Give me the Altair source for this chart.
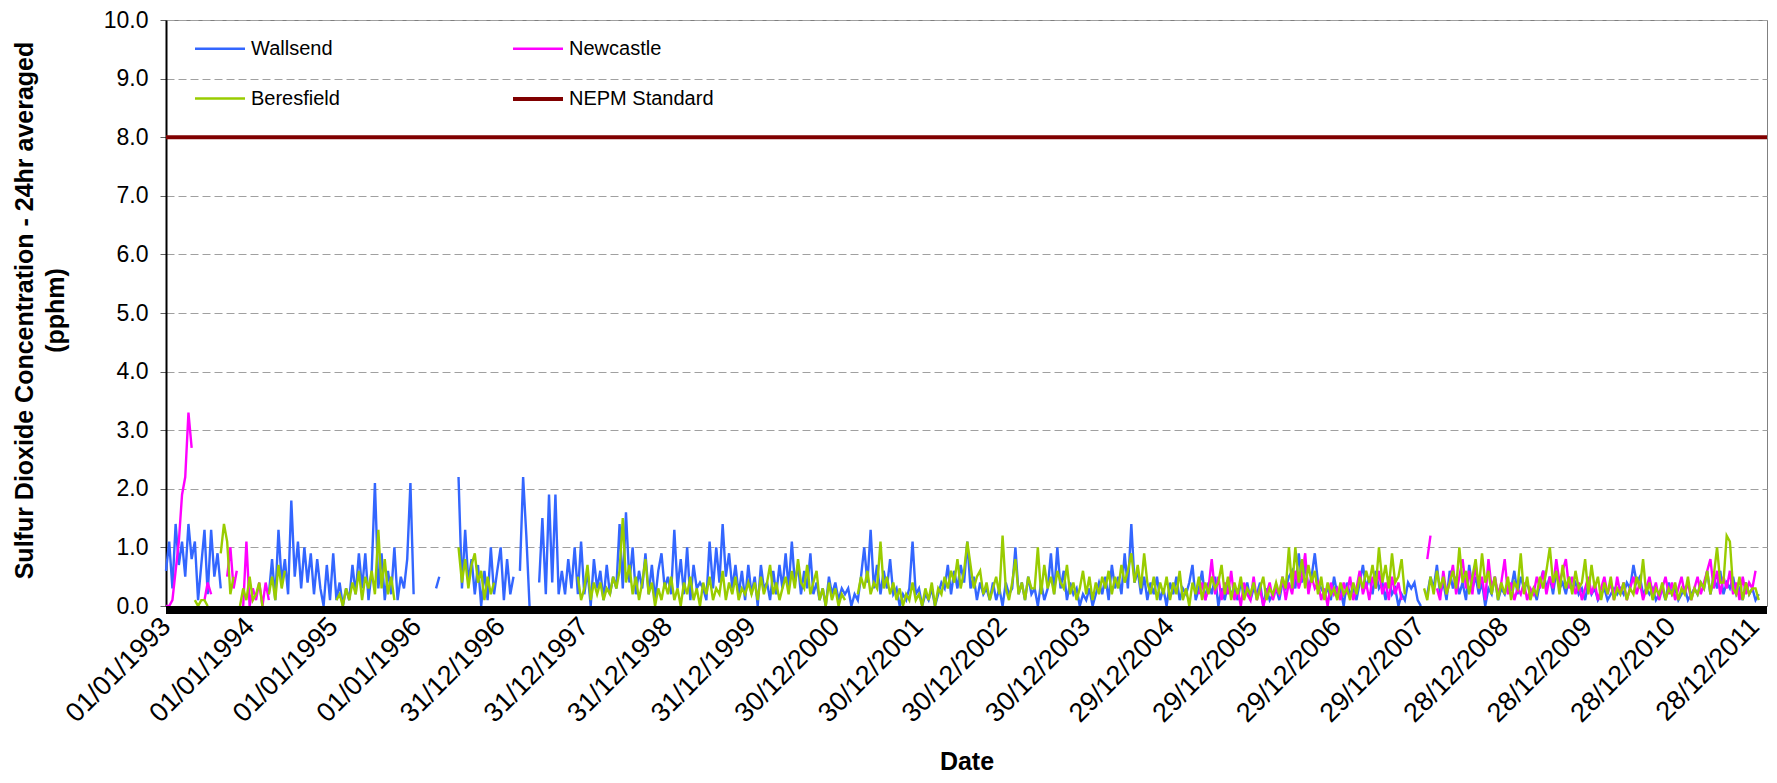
import altair as alt
import pandas as pd

N = None
YEARS = list(range(1993, 2013))
SERIES = ["Wallsend", "Newcastle", "Beresfield", "NEPM Standard"]
LEGEND_ORDER = ["Wallsend", "Beresfield", "Newcastle", "NEPM Standard"]
COLORS = ["#3366FF", "#99CC00", "#FF00FF", "#800000"]
NEPM_LEVEL = 8.0
X_START = "1993-01-01"
X_END = "2012-02-20"
TICK_DATES = ["1993-01-01", "1994-01-01", "1995-01-01", "1996-01-01", "1996-12-31",
              "1997-12-31", "1998-12-31", "1999-12-31", "2000-12-30", "2001-12-30",
              "2002-12-30", "2003-12-30", "2004-12-29", "2005-12-29", "2006-12-29",
              "2007-12-29", "2008-12-28", "2009-12-28", "2010-12-28", "2011-12-28"]
Y_TICKS = [0, 1, 2, 3, 4, 5, 6, 7, 8, 9, 10]

# one row per year, values roughly every two weeks (pphm), None = no data
WALLSEND = [
    [0.6, 1.1, 0.3, 1.4, 0.7, 1.1, 0.5, 1.4, 0.8, 1.1, 0.1, 0.7, 1.3, 0.2, 1.3, 0.5, 0.9, 0.3, N, N, N, N, N, N, N, N],
    [N, N, N, N, N, N, 0.2, 0.8, 0.1, 1.3, 0.4, 0.8, 0.2, 1.8, 0.5, 1.1, 0.3, 1.0, 0.4, 0.9, 0.2, 0.8, 0.3, 0.0, 0.7, 0.1],
    [0.9, 0.1, 0.4, 0.0, 0.3, 0.1, 0.7, 0.2, 0.9, 0.3, 0.9, 0.1, 0.6, 2.1, 0.3, 0.9, 0.1, 0.6, 0.2, 1.0, 0.1, 0.5, 0.3, 0.8, 2.1, 0.2],
    [N, N, N, N, N, N, 0.3, 0.5, N, N, N, N, N, 2.2, 0.3, 1.3, 0.4, 0.8, 0.2, 0.7, 0.0, 0.6, 0.1, 1.0, 0.2, 0.6],
    [1.0, 0.1, 0.8, 0.2, 0.5, N, 0.6, 2.2, 1.2, 0.0, N, N, 0.4, 1.5, 0.2, 1.9, 0.4, 1.9, 0.2, 0.6, 0.2, 0.8, 0.3, 1.0, 0.2, 1.1],
    [0.2, 0.6, 0.0, 0.8, 0.3, 0.6, 0.1, 0.7, 0.2, 0.5, 0.3, 1.4, 0.3, 1.6, 0.4, 1.0, 0.2, 0.6, 0.3, 0.9, 0.2, 0.7, 0.1, 0.6, 0.9, 0.3],
    [0.5, 0.2, 1.3, 0.3, 0.8, 0.2, 1.0, 0.1, 0.7, 0.3, 0.4, 0.3, 0.1, 1.1, 0.3, 1.0, 0.4, 1.4, 0.5, 0.9, 0.3, 0.7, 0.2, 0.6, 0.1, 0.7],
    [0.2, 0.5, 0.0, 0.7, 0.3, 0.4, 0.1, 0.6, 0.2, 0.7, 0.3, 0.9, 0.3, 1.1, 0.4, 0.7, 0.2, 0.6, 0.3, 0.9, 0.2, 0.4, 0.1, 0.3, 0.0, 0.5, 0.2],
    [0.4, 0.1, 0.3, 0.2, 0.3, 0.0, 0.2, 0.1, 0.5, 1.0, 0.4, 1.3, 0.3, 0.7, 0.2, 0.6, 0.3, 0.8, 0.2, 0.3, 0.0, 0.2, 0.1, 0.3, 1.1, 0.2],
    [0.3, 0.0, 0.2, 0.1, 0.3, 0.0, 0.2, 0.4, 0.3, 0.7, 0.2, 0.6, 0.3, 0.7, 0.4, 1.1, 0.3, 0.5, 0.1, 0.4, 0.2, 0.3, 0.1, 0.4, 0.1, 0.3],
    [0.0, 0.4, 0.2, 0.3, 1.0, 0.2, 0.4, 0.1, 0.5, 0.2, 0.3, 0.0, 0.4, 0.1, 0.3, 0.9, 0.2, 1.0, 0.3, 0.6, 0.1, 0.4, 0.2, 0.3, 0.0, 0.2],
    [0.1, 0.3, 0.0, 0.2, 0.4, 0.2, 0.5, 0.1, 0.7, 0.3, 0.5, 0.2, 0.9, 0.3, 1.4, 0.4, 0.6, 0.2, 0.5, 0.1, 0.4, 0.2, 0.5, 0.1, 0.3, 0.0],
    [0.4, 0.2, 0.5, 0.1, 0.3, 0.2, 0.4, 0.7, 0.1, 0.3, 0.6, 0.1, 0.4, 0.2, 0.5, 0.0, 0.3, 0.1, 0.4, 0.2, 0.3, 0.1, 0.4, 0.2, 0.4, 0.1],
    [0.3, 0.2, 0.4, 0.0, 0.3, 0.1, 0.2, 0.3, 0.1, 0.4, 0.3, 0.5, 0.6, 0.3, 0.9, 0.4, 0.7, 0.3, 0.5, 0.9, 0.4, 0.3, 0.2, 0.3, 0.1, 0.5],
    [0.2, 0.3, 0.0, 0.4, 0.2, 0.3, 0.1, 0.4, 0.7, 0.3, 0.5, 0.2, 0.6, 0.3, 0.4, 0.1, 0.5, 0.2, 0.3, 0.0, 0.2, 0.1, 0.4, 0.3, 0.4, 0.1],
    [0.0, N, 0.2, 0.5, 0.3, 0.7, 0.2, 0.4, 0.1, 0.6, 0.3, 0.5, 0.2, 0.4, 0.1, 0.7, 0.3, 0.5, 0.2, 0.4, 0.0, 0.3, 0.2, 0.5, 0.1, 0.3],
    [0.2, 0.4, 0.3, 0.6, 0.2, 0.5, 0.3, 0.4, 0.2, 0.3, 0.1, 0.4, 0.6, 0.3, 0.5, 0.2, 0.6, 0.3, 0.4, 0.2, 0.5, 0.3, 0.4, 0.2, 0.3, 0.1],
    [0.4, 0.2, 0.3, 0.1, 0.2, 0.3, 0.1, 0.2, 0.3, 0.2, 0.3, 0.2, 0.4, 0.3, 0.7, 0.4, 0.5, 0.2, 0.3, 0.2, 0.3, 0.1, 0.2, 0.3, 0.1, 0.4],
    [0.2, 0.3, 0.1, 0.2, 0.3, 0.1, 0.2, 0.3, 0.2, 0.4, 0.3, 0.6, 0.2, 0.5, 0.3, 0.6, 0.2, 0.4, 0.3, 0.5, 0.2, 0.3, 0.1, 0.4, 0.2, 0.3],
    [0.1, 0.2],
]

NEWCASTLE = [
    [0.0, 0.0, 0.1, 0.6, 1.1, 1.9, 2.2, 3.3, 2.7, N, N, N, 0.1, 0.4, 0.2, N, N, N, N, 0.5, 1.0, 0.3, 0.6, N, 0.0, 1.1],
    [0.0, 0.3, 0.1, 0.4, 0.0, 0.4, 0.1, N, N, N, N, N, N, N, N, N, N, N, N, N, N, N, N, N, N, N],
    [], [], [], [], [], [], [], [], [], [],
    [N, N, N, N, N, N, N, N, N, 0.2, 0.4, 0.1, 0.3, 0.8, 0.2, 0.5, 0.1, 0.4, 0.2, 0.6, 0.1, 0.3, 0.0, 0.4, 0.2, 0.1],
    [0.5, 0.1, 0.3, 0.0, 0.2, 0.4, 0.1, 0.3, 0.2, 0.5, 0.1, 0.4, 0.2, 0.6, 0.3, 0.5, 0.9, 0.2, 0.5, 0.3, 0.4, 0.1, 0.3, 0.0, 0.4, 0.2],
    [0.3, 0.1, 0.4, 0.2, 0.5, 0.1, 0.3, 0.6, 0.2, 0.4, 0.1, 0.5, 0.3, 0.6, 0.2, 0.4, 0.1, 0.5, 0.2, 0.4, 0.1, N, N, N, N, N],
    [N, N, 0.8, 1.2, N, 0.3, 0.1, 0.6, 0.2, 0.4, 0.7, 0.2, 0.5, 0.8, 0.3, 0.6, 0.2, 0.7, 0.3, 0.5, 0.1, 0.8, 0.3, 0.5, 0.2, 0.4],
    [0.8, 0.2, 0.4, 0.1, 0.3, 0.2, 0.4, 0.1, 0.3, 0.2, 0.5, 0.3, 0.6, 0.2, 0.5, 0.3, 0.8, 0.4, 0.6, 0.8, 0.3, 0.5, 0.2, 0.4, 0.1, 0.3],
    [0.5, 0.2, 0.4, 0.1, 0.3, 0.5, 0.2, 0.4, 0.1, 0.5, 0.2, 0.4, 0.1, 0.3, 0.5, 0.2, 0.4, 0.1, 0.3, 0.5, 0.2, 0.4, 0.1, 0.3, 0.5, 0.2],
    [0.4, 0.1, 0.3, 0.5, 0.2, 0.4, 0.1, 0.3, 0.5, 0.2, 0.4, 0.6, 0.8, 0.3, 0.6, 0.2, 0.5, 0.3, 0.6, 0.2, 0.4, 0.1, 0.5, 0.2, 0.4, 0.3],
    [0.6],
]

BERESFIELD = [
    [N, N, N, N, N, N, N, N, N, 0.1, 0.0, 0.1, 0.1, 0.0, N, N, N, 0.9, 1.4, 1.1, 0.2, 0.5, N, 0.0, 0.3, 0.1],
    [0.5, 0.1, 0.2, 0.4, 0.0, N, 0.2, 0.5, 0.1, 0.7, 0.3, 0.6, N, N, N, N, N, N, N, N, N, N, N, N, N, N],
    [N, 0.1, 0.2, 0.0, 0.3, 0.1, 0.4, 0.2, 0.6, 0.1, 0.5, 0.3, 0.6, 0.2, 1.3, 0.3, 0.8, 0.2, 0.5, 0.1, N, N, N, N, N, N],
    [N, N, N, N, N, N, N, N, N, N, N, N, N, 1.0, 0.4, 0.8, 0.3, 0.7, 0.9, 0.4, 0.6, 0.1, 0.5, 0.2, 0.4, N],
    [N, N, N, N, N, N, N, N, N, N, N, N, N, N, N, N, N, N, N, N, N, N, N, N, 0.5, 0.1],
    [0.3, 0.7, 0.1, 0.4, 0.2, 0.4, 0.1, 0.3, 0.2, 0.5, 0.3, 0.6, 1.5, 0.4, 0.7, 0.2, 0.5, 0.1, 0.4, 0.8, 0.2, 0.4, 0.0, 0.3, 0.1, 0.4],
    [0.2, 0.5, 0.1, 0.3, 0.0, 0.4, 0.2, 0.5, 0.1, 0.3, 0.0, 0.4, 0.2, 0.5, 0.1, 0.3, 0.2, 0.6, 0.1, 0.4, 0.2, 0.5, 0.1, 0.3, 0.2, 0.4],
    [0.2, 0.4, 0.1, 0.5, 0.2, 0.4, 0.7, 0.2, 0.4, 0.1, 0.3, 0.5, 0.2, 0.6, 0.3, 0.8, 0.4, 0.3, 0.7, 0.2, 0.4, 0.6, 0.1, 0.3, 0.0, 0.4, 0.1],
    [0.3, 0.0, 0.2, 0.1, N, N, N, 0.2, 0.5, 0.3, 0.6, 0.2, 0.4, 0.3, 1.1, 0.3, 0.5, 0.2, 0.4, 0.1, 0.3, 0.0, 0.2, 0.1, 0.4, 0.1],
    [0.2, 0.0, 0.3, 0.1, 0.4, 0.0, 0.3, 0.2, 0.5, 0.3, 0.6, 0.4, 0.8, 0.3, 0.6, 1.1, 0.7, 0.3, 0.5, 0.6, 0.2, 0.4, 0.1, 0.3, 0.5, 0.2],
    [1.2, 0.3, 0.1, 0.4, 0.8, 0.2, 0.4, 0.1, 0.5, 0.3, 0.3, 1.0, 0.2, 0.7, 0.3, 0.5, 0.2, 0.6, 0.4, 0.3, 0.7, 0.2, 0.4, 0.1, 0.3, 0.6],
    [0.2, 0.5, 0.1, 0.4, 0.2, 0.5, 0.3, 0.6, 0.2, 0.5, 0.3, 0.7, 0.4, 0.6, 0.9, 0.4, 0.7, 0.3, 0.9, 0.4, 0.2, 0.5, 0.1, 0.4, 0.2, 0.5],
    [0.1, 0.4, 0.2, 0.6, 0.1, 0.3, 0.0, 0.4, 0.2, 0.5, 0.1, 0.4, 0.2, 0.5, 0.3, 0.4, 0.7, 0.2, 0.5, 0.1, 0.4, 0.2, 0.5, 0.1, 0.3, 0.2],
    [0.4, 0.1, 0.3, 0.5, 0.1, 0.3, 0.2, 0.4, 0.2, 0.5, 0.3, 1.0, 0.3, 1.0, 0.4, 0.8, 0.3, 0.7, 0.4, 0.6, 0.2, 0.5, 0.1, 0.4, 0.2, 0.3],
    [0.1, 0.4, 0.2, 0.3, 0.1, 0.4, 0.2, 0.5, 0.3, 0.6, 0.4, 0.7, 0.3, 1.0, 0.4, 0.7, 0.3, 0.9, 0.4, 0.5, 0.8, 0.2, N, N, N, N],
    [N, 0.3, 0.1, 0.5, 0.2, 0.6, 0.3, 0.5, 0.2, 0.4, 0.6, 0.3, 1.0, 0.4, 0.6, 0.2, 0.5, 0.8, 0.3, 0.9, 0.4, 0.6, 0.2, 0.5, 0.1, 0.4],
    [0.2, 0.5, 0.1, 0.4, 0.3, 0.9, 0.2, 0.5, 0.1, 0.3, 0.2, 0.5, 0.3, 0.6, 1.0, 0.4, 0.6, 0.2, 0.7, 0.3, 0.5, 0.2, 0.6, 0.3, 0.4, 0.8],
    [0.2, 0.7, 0.3, 0.5, 0.1, 0.4, 0.2, 0.5, 0.1, 0.3, 0.2, 0.4, 0.1, 0.3, 0.2, 0.5, 0.3, 0.8, 0.2, 0.4, 0.1, 0.3, 0.2, 0.4, 0.1, 0.3],
    [0.2, 0.4, 0.1, 0.3, 0.2, 0.5, 0.1, 0.3, 0.2, 0.4, 0.3, 0.6, 0.2, 0.5, 1.0, 0.4, 0.4, 1.2, 1.1, 0.3, 0.2, 0.5, 0.1, 0.4, 0.2, 0.3],
    [0.3, 0.1],
]


def ms(s):
    return int(pd.Timestamp(s).value // 10**6)


def to_records(name, rows):
    recs = []
    for year, row in zip(YEARS, rows):
        step = 365.0 / max(len(row), 26)
        base = pd.Timestamp(f"{year}-01-01")
        for k, v in enumerate(row):
            d = base + pd.Timedelta(days=int(round(k * step)))
            recs.append({"date": int(d.value // 10**6), "value": v, "series": name})
    return recs


records = (to_records("Wallsend", WALLSEND) + to_records("Newcastle", NEWCASTLE)
           + to_records("Beresfield", BERESFIELD))
records += [{"date": ms(X_START), "value": NEPM_LEVEL, "series": "NEPM Standard"},
            {"date": ms(X_END), "value": NEPM_LEVEL, "series": "NEPM Standard"}]
df = pd.DataFrame(records)
band_df = pd.DataFrame({"date": [ms(X_START)], "date_end": [ms(X_END)]})

FONT = "Liberation Sans"
PLOT_H = 586

x_enc = alt.X(
    "date:T",
    scale=alt.Scale(type="utc", domain=[ms(X_START), ms(X_END)]),
    axis=alt.Axis(
        values=[ms(t) for t in TICK_DATES], format="%d/%m/%Y", labelAngle=-45,
        labelAlign="right", labelBaseline="middle", labelFontSize=27, labelPadding=16,
        labelFlush=False, labelOverlap=False, labelLimit=0, ticks=False, domain=False,
        grid=False, title="Date", titleFontSize=25, titleFontWeight="bold",
        titleY=163, titleBaseline="alphabetic",
    ),
)
y_enc = alt.Y(
    "value:Q",
    scale=alt.Scale(domain=[0, 10], nice=False),
    axis=alt.Axis(
        values=Y_TICKS, format=".1f", labelFontSize=23, labelPadding=12,
        tickSize=6, tickColor="#606060", domainColor="black", domainWidth=2,
        grid=True, gridDash=[8, 4], gridColor="#A0A0A0", gridWidth=1,
        title=["Sulfur Dioxide Concentration - 24hr averaged", "(pphm)"],
        titleFontSize=25, titleFontWeight="bold", titleAngle=-90,
        titleX=-142, titleY=290, titleBaseline="middle", titleAlign="center",
        titleLineHeight=31,
    ),
)
legend = alt.Legend(
    orient="none", legendX=27, legendY=2, columns=2, columnPadding=165, rowPadding=13,
    title=None, padding=0, labelFontSize=20, labelFont=FONT, labelColor="black",
    symbolType="stroke", symbolSize=2500, labelOffset=4, labelLimit=0,
)
color_enc = alt.Color("series:N", scale=alt.Scale(domain=LEGEND_ORDER, range=COLORS), legend=legend)
width_enc = alt.StrokeWidth(
    "series:N",
    scale=alt.Scale(type="ordinal", domain=LEGEND_ORDER, range=[2.4, 2.4, 2.4, 4]),
    legend=legend,
)

base = alt.Chart(df)
layers = []
for name in SERIES:
    layers.append(
        base.transform_filter(alt.datum.series == name)
        .mark_line(invalid="break-paths-show-domains")
        .encode(x=x_enc, y=y_enc, color=color_enc, strokeWidth=width_enc)
    )
band = alt.Chart(band_df).mark_rect(color="black").encode(
    x=x_enc, x2=alt.X2("date_end"), y=alt.value(PLOT_H), y2=alt.value(PLOT_H + 8)
)
layers.append(band)

chart = (
    alt.layer(*layers)
    .properties(
        width=1601, height=PLOT_H,
        padding={"left": 158, "top": 12, "right": 1, "bottom": 169},
        autosize=alt.AutoSizeParams(type="none"),
    )
    .configure_view(stroke="#808080", strokeWidth=1)
    .configure_axis(labelFont=FONT, titleFont=FONT, labelColor="black", titleColor="black")
)

chart.save("out.html", embed_options={"renderer": "svg", "actions": False})
